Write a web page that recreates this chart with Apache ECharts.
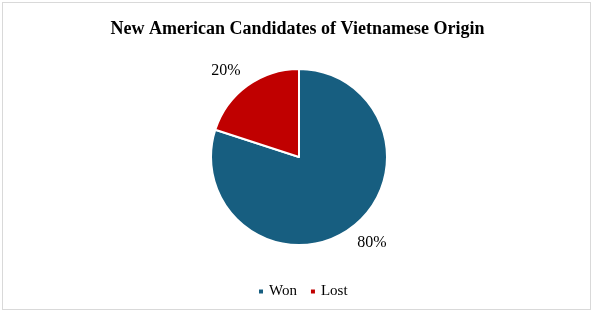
<!DOCTYPE html>
<html><head><meta charset="utf-8">
<script src="https://cdn.jsdelivr.net/npm/echarts@6/dist/echarts.min.js"></script>
<style>
html,body{margin:0;padding:0;background:#fff;}
#frame{position:absolute;left:2px;top:2px;width:589px;height:308px;border:1px solid #d9d9d9;box-sizing:border-box;}
#c{position:absolute;left:0;top:0;width:595px;height:315px;}
</style></head>
<body><div id="frame"></div><div id="c"></div>
<script>
const title = 'New American Candidates of Vietnamese Origin';
const categories = ['Won', 'Lost'];
const values = [80, 20];
const colors = ['#175e80', '#c00000'];

const chart = echarts.init(document.getElementById('c'));
chart.setOption({
  animation: false,
  title: {text: title, left: 'center', top: 15,
    textStyle: {fontFamily: 'Liberation Serif', fontWeight: 'bold', fontSize: 18, color: '#000'}},
  legend: {bottom: 11, left: 252, itemWidth: 6, itemHeight: 6, icon: 'rect', itemGap: 12,
    textStyle: {fontFamily: 'Liberation Serif', fontSize: 15, color: '#000'},
    data: categories},
  series: [{
    type: 'pie', center: [299, 157], radius: 88, startAngle: 90, clockwise: true,
    data: categories.map((c, i) => ({name: c, value: values[i], itemStyle: {color: colors[i]}})),
    itemStyle: {borderColor: '#fff', borderWidth: 2},
    label: {show: true, position: 'outside', formatter: '{d}%', distanceToLabelLine: -4,
      padding: [4, 0, 0, 0],
      fontFamily: 'Liberation Serif', fontSize: 16, color: '#000'},
    labelLine: {show: false, length: 18, length2: 0},
    emphasis: {disabled: true}
  }]
});
</script></body></html>
